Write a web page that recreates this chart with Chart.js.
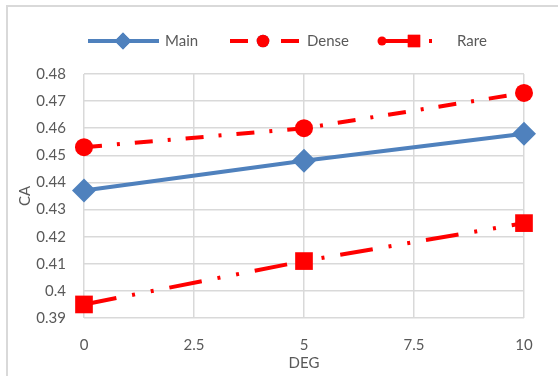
<!DOCTYPE html>
<html>
<head>
<meta charset="utf-8">
<script src="https://cdn.jsdelivr.net/npm/chart.js@4"></script>
<style>
  body { margin: 0; background: #fff; }
  #wrap { position: relative; width: 558px; height: 376px; overflow: hidden; }
  #frame { position: absolute; left: 6px; top: 5px; width: 600px; height: 400px;
           border-left: 2px solid #d9d9d9; border-top: 2px solid #d9d9d9; }
  canvas { position: absolute; left: 0; top: 0; }
</style>
</head>
<body>
<div id="wrap">
  <div id="frame"></div>
  <canvas id="myChart" width="558" height="376"></canvas>
</div>
<script>
const deg = [0, 5, 10];
const mainValues = [0.437, 0.448, 0.458];
const denseValues = [0.453, 0.460, 0.473];
const rareValues = [0.395, 0.411, 0.425];
const xTicks = [0, 2.5, 5, 7.5, 10];
const yTicks = [0.39, 0.40, 0.41, 0.42, 0.43, 0.44, 0.45, 0.46, 0.47, 0.48];

const blue = '#4f81bd';
const red = '#ff0000';
const textColor = '#595959';
const fontFamily = 'Lato, "Open Sans", sans-serif';

function pts(values) {
  return values.map((v, i) => ({ x: deg[i], y: v }));
}

// legend drawn by hand so line + marker look like the original
const customLegend = {
  id: 'customLegend',
  afterDraw(chart) {
    const ctx = chart.ctx;
    const y = 41;
    const items = [
      { ds: 0, x0: 88, x1: 159, mx: 123, tx: 165, text: 'Main' },
      { ds: 1, x0: 230, x1: 299, mx: 263, tx: 307, text: 'Dense' },
      { ds: 2, x0: 380, x1: 446, mx: 414, tx: 457, text: 'Rare' }
    ];
    items.forEach(it => {
      const ds = chart.data.datasets[it.ds];
      ctx.save();
      ctx.strokeStyle = ds.borderColor;
      ctx.lineWidth = ds.borderWidth;
      ctx.setLineDash(ds.borderDash || []);
      ctx.beginPath();
      ctx.moveTo(it.x0, y);
      ctx.lineTo(it.x1, y);
      ctx.stroke();
      ctx.setLineDash([]);
      if (it.ds === 2) {
        ctx.fillStyle = red;
        ctx.beginPath();
        ctx.arc(it.x0 + 2, y, 4.5, 0, Math.PI * 2);
        ctx.fill();
      }
      Chart.helpers.drawPoint(ctx, {
        pointStyle: ds.pointStyle,
        radius: ds.pointRadius * 0.7,
        borderWidth: 0
      }, it.mx, y);
      ctx.fillStyle = ds.pointBackgroundColor;
      ctx.fill();
      ctx.font = '15px ' + fontFamily;
      ctx.fillStyle = textColor;
      ctx.textBaseline = 'middle';
      ctx.fillText(it.text, it.tx, y);
      ctx.restore();
    });
  }
};

const ctx = document.getElementById('myChart').getContext('2d');
const chart = new Chart(ctx, {
  type: 'line',
  data: {
    datasets: [
      {
        label: 'Main',
        data: pts(mainValues),
        borderColor: blue,
        backgroundColor: blue,
        pointBackgroundColor: blue,
        borderWidth: 4,
        pointStyle: 'rectRot',
        pointRadius: 12,
        pointBorderWidth: 0,
        clip: false
      },
      {
        label: 'Dense',
        data: pts(denseValues),
        borderColor: red,
        backgroundColor: red,
        pointBackgroundColor: red,
        borderWidth: 4,
        borderDash: [18, 15, 3, 15],
        pointStyle: 'circle',
        pointRadius: 9,
        pointBorderWidth: 0,
        clip: false
      },
      {
        label: 'Rare',
        data: pts(rareValues),
        borderColor: red,
        backgroundColor: red,
        pointBackgroundColor: red,
        borderWidth: 4,
        borderDash: [33, 16, 3, 16, 3, 16],
        pointStyle: 'rect',
        pointRadius: 12.5,
        pointBorderWidth: 0,
        clip: false
      }
    ]
  },
  options: {
    responsive: false,
    animation: false,
    layout: { padding: { top: 74, right: 34, left: 0, bottom: 0 } },
    plugins: {
      legend: { display: false },
      tooltip: { enabled: false }
    },
    scales: {
      x: {
        type: 'linear',
        min: 0,
        max: 10,
        afterBuildTicks: axis => { axis.ticks = xTicks.map(v => ({ value: v })); },
        afterFit: axis => { axis.height = 58; },
        grid: { color: '#d9d9d9', lineWidth: 1.5, drawTicks: false },
        border: { display: false },
        ticks: { color: textColor, font: { size: 15, family: fontFamily }, padding: 18 },
        title: { display: true, text: 'DEG', color: textColor, font: { size: 15, family: fontFamily }, padding: { top: 0 } }
      },
      y: {
        min: 0.39,
        max: 0.48,
        afterBuildTicks: axis => { axis.ticks = yTicks.map(v => ({ value: v })); },
        afterFit: axis => { axis.width = 84; },
        grid: { color: '#d9d9d9', lineWidth: 1.5, drawTicks: false },
        border: { display: false },
        ticks: {
          color: textColor,
          font: { size: 15, family: fontFamily },
          padding: 18,
          callback: v => String(Number(v.toFixed(2)))
        },
        title: { display: true, text: 'CA', color: textColor, font: { size: 15, family: fontFamily }, padding: { top: 16, bottom: 0 } }
      }
    }
  },
  plugins: [customLegend]
});
</script>
</body>
</html>
